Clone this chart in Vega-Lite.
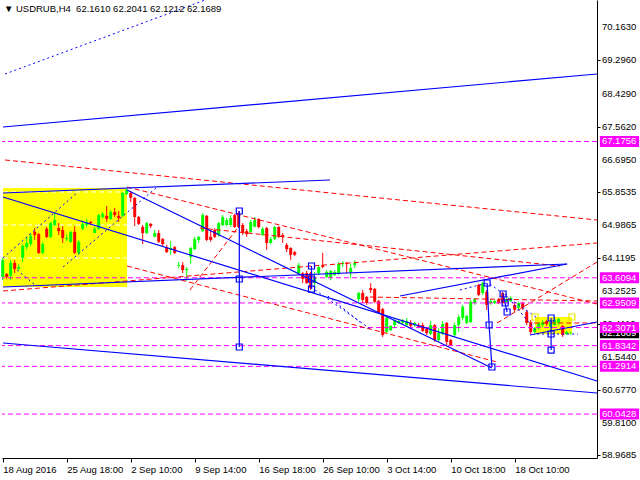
{
  "$schema": "https://vega.github.io/schema/vega-lite/v6.json",
  "width": 595,
  "height": 458,
  "autosize": {"type": "none"},
  "padding": {"left": 2, "top": 0, "right": 43, "bottom": 22},
  "background": "white",
  "config": {
    "view": {"stroke": null},
    "font": "Liberation Sans",
    "axis": {"grid": false, "title": null},
    "scale": {"continuousPadding": 0}
  },
  "datasets": {
    "candles": [
      {"b":0,"o":63.63,"h":64.13,"l":63.55,"c":64.07},
      {"b":1,"o":63.71,"h":63.73,"l":63.58,"c":63.63},
      {"b":2,"o":63.66,"h":64.07,"l":63.55,"c":64.00},
      {"b":3,"o":64.00,"h":64.07,"l":63.73,"c":63.84},
      {"b":4,"o":63.84,"h":63.97,"l":63.81,"c":63.89},
      {"b":5,"o":64.13,"h":64.49,"l":64.02,"c":64.44},
      {"b":6,"o":64.41,"h":64.68,"l":64.34,"c":64.52},
      {"b":7,"o":64.49,"h":64.78,"l":64.44,"c":64.70},
      {"b":8,"o":64.81,"h":64.91,"l":64.60,"c":64.73},
      {"b":9,"o":64.75,"h":64.78,"l":64.23,"c":64.26},
      {"b":10,"o":64.26,"h":64.55,"l":64.23,"c":64.49},
      {"b":11,"o":64.89,"h":64.94,"l":64.65,"c":64.68},
      {"b":12,"o":64.68,"h":65.07,"l":64.65,"c":65.04},
      {"b":13,"o":64.99,"h":65.33,"l":64.96,"c":65.12},
      {"b":14,"o":64.91,"h":65.04,"l":64.73,"c":64.83},
      {"b":15,"o":64.86,"h":64.96,"l":64.52,"c":64.65},
      {"b":16,"o":64.62,"h":64.75,"l":64.57,"c":64.65},
      {"b":17,"o":64.55,"h":64.83,"l":64.52,"c":64.81},
      {"b":18,"o":64.81,"h":64.96,"l":64.23,"c":64.26},
      {"b":19,"o":64.26,"h":64.60,"l":64.21,"c":64.55},
      {"b":20,"o":64.89,"h":65.12,"l":64.86,"c":65.02},
      {"b":21,"o":64.99,"h":65.15,"l":64.94,"c":65.07},
      {"b":22,"o":65.07,"h":65.10,"l":64.99,"c":65.04},
      {"b":23,"o":64.78,"h":64.94,"l":64.78,"c":64.89},
      {"b":24,"o":64.89,"h":65.28,"l":64.86,"c":65.25},
      {"b":25,"o":65.20,"h":65.33,"l":65.15,"c":65.28},
      {"b":26,"o":65.23,"h":65.49,"l":65.07,"c":65.15},
      {"b":27,"o":65.15,"h":65.38,"l":65.12,"c":65.33},
      {"b":28,"o":65.33,"h":65.44,"l":65.20,"c":65.25},
      {"b":29,"o":65.23,"h":65.36,"l":65.07,"c":65.17},
      {"b":30,"o":65.23,"h":65.85,"l":65.20,"c":65.83},
      {"b":31,"o":65.80,"h":65.96,"l":65.77,"c":65.91},
      {"b":32,"o":65.83,"h":65.88,"l":65.59,"c":65.70},
      {"b":33,"o":65.70,"h":65.72,"l":64.96,"c":65.20},
      {"b":34,"o":65.20,"h":65.23,"l":64.99,"c":65.02},
      {"b":35,"o":64.94,"h":64.99,"l":64.49,"c":64.78},
      {"b":36,"o":64.78,"h":65.07,"l":64.75,"c":65.04},
      {"b":37,"o":65.02,"h":65.04,"l":64.91,"c":64.96},
      {"b":38,"o":64.68,"h":64.86,"l":64.68,"c":64.78},
      {"b":39,"o":64.78,"h":64.86,"l":64.52,"c":64.55},
      {"b":40,"o":64.62,"h":64.65,"l":64.44,"c":64.49},
      {"b":41,"o":64.41,"h":64.47,"l":64.26,"c":64.28},
      {"b":42,"o":64.34,"h":64.57,"l":64.21,"c":64.39},
      {"b":43,"o":64.41,"h":64.44,"l":64.23,"c":64.26},
      {"b":44,"o":63.92,"h":64.02,"l":63.86,"c":63.94},
      {"b":45,"o":63.94,"h":64.02,"l":63.73,"c":63.81},
      {"b":46,"o":63.81,"h":63.89,"l":63.53,"c":63.84},
      {"b":47,"o":64.15,"h":64.41,"l":63.97,"c":64.39},
      {"b":48,"o":64.36,"h":64.68,"l":64.34,"c":64.62},
      {"b":49,"o":64.60,"h":64.70,"l":64.52,"c":64.68},
      {"b":50,"o":64.83,"h":65.30,"l":64.81,"c":65.25},
      {"b":51,"o":65.23,"h":65.25,"l":64.57,"c":64.60},
      {"b":52,"o":64.68,"h":64.86,"l":64.55,"c":64.60},
      {"b":53,"o":64.86,"h":64.91,"l":64.65,"c":64.68},
      {"b":54,"o":64.73,"h":65.07,"l":64.68,"c":65.04},
      {"b":55,"o":64.99,"h":65.25,"l":64.96,"c":65.20},
      {"b":56,"o":64.99,"h":65.17,"l":64.96,"c":65.12},
      {"b":57,"o":64.99,"h":65.25,"l":64.94,"c":65.17},
      {"b":58,"o":65.25,"h":65.28,"l":64.91,"c":64.94},
      {"b":59,"o":65.30,"h":65.36,"l":64.91,"c":64.94},
      {"b":60,"o":64.99,"h":65.04,"l":64.73,"c":64.78},
      {"b":61,"o":64.83,"h":64.89,"l":64.68,"c":64.75},
      {"b":62,"o":64.81,"h":65.12,"l":64.78,"c":65.07},
      {"b":63,"o":64.94,"h":65.20,"l":64.94,"c":65.12},
      {"b":64,"o":65.15,"h":65.17,"l":64.91,"c":64.94},
      {"b":65,"o":64.73,"h":64.94,"l":64.70,"c":64.89},
      {"b":66,"o":64.91,"h":64.94,"l":64.34,"c":64.52},
      {"b":67,"o":64.52,"h":64.68,"l":64.49,"c":64.62},
      {"b":68,"o":64.62,"h":64.96,"l":64.60,"c":64.94},
      {"b":69,"o":64.94,"h":64.96,"l":64.65,"c":64.68},
      {"b":70,"o":64.73,"h":64.78,"l":64.52,"c":64.68},
      {"b":71,"o":64.47,"h":64.52,"l":64.28,"c":64.36},
      {"b":72,"o":64.39,"h":64.41,"l":64.07,"c":64.21},
      {"b":73,"o":64.28,"h":64.31,"l":64.18,"c":64.21},
      {"b":74,"o":63.73,"h":64.00,"l":63.68,"c":63.94},
      {"b":75,"o":63.73,"h":63.76,"l":63.47,"c":63.58},
      {"b":76,"o":63.73,"h":63.79,"l":63.45,"c":63.47},
      {"b":77,"o":63.73,"h":63.76,"l":63.29,"c":63.34},
      {"b":78,"o":63.47,"h":63.76,"l":63.34,"c":63.63},
      {"b":79,"o":63.73,"h":63.94,"l":63.68,"c":63.89},
      {"b":80,"o":63.94,"h":64.26,"l":63.86,"c":63.89},
      {"b":81,"o":63.63,"h":63.81,"l":63.60,"c":63.76},
      {"b":82,"o":63.60,"h":63.81,"l":63.55,"c":63.79},
      {"b":83,"o":63.68,"h":63.81,"l":63.66,"c":63.76},
      {"b":84,"o":63.73,"h":64.02,"l":63.68,"c":63.97},
      {"b":85,"o":63.97,"h":64.05,"l":63.89,"c":64.00},
      {"b":86,"o":64.00,"h":64.02,"l":63.73,"c":63.97},
      {"b":87,"o":63.76,"h":63.97,"l":63.60,"c":63.86},
      {"b":88,"o":63.94,"h":64.07,"l":63.86,"c":64.00},
      {"b":89,"o":63.05,"h":63.24,"l":62.98,"c":63.21},
      {"b":90,"o":63.21,"h":63.29,"l":62.95,"c":63.03},
      {"b":91,"o":63.11,"h":63.13,"l":62.90,"c":62.95},
      {"b":92,"o":63.34,"h":63.47,"l":63.21,"c":63.29},
      {"b":93,"o":63.32,"h":63.34,"l":62.95,"c":62.98},
      {"b":94,"o":63.00,"h":63.03,"l":62.66,"c":62.69},
      {"b":95,"o":62.79,"h":62.82,"l":62.06,"c":62.11},
      {"b":96,"o":62.19,"h":62.58,"l":62.16,"c":62.56},
      {"b":97,"o":62.24,"h":62.37,"l":62.22,"c":62.35},
      {"b":98,"o":62.37,"h":62.56,"l":62.29,"c":62.50},
      {"b":99,"o":62.43,"h":62.50,"l":62.40,"c":62.48},
      {"b":100,"o":62.43,"h":62.53,"l":62.40,"c":62.50},
      {"b":101,"o":62.37,"h":62.56,"l":62.32,"c":62.48},
      {"b":102,"o":62.43,"h":62.50,"l":62.29,"c":62.35},
      {"b":103,"o":62.37,"h":62.45,"l":62.32,"c":62.43},
      {"b":104,"o":62.37,"h":62.43,"l":62.29,"c":62.32},
      {"b":105,"o":62.37,"h":62.43,"l":62.19,"c":62.22},
      {"b":106,"o":62.27,"h":62.32,"l":62.11,"c":62.16},
      {"b":107,"o":62.14,"h":62.48,"l":62.11,"c":62.37},
      {"b":108,"o":62.37,"h":62.40,"l":61.93,"c":61.98},
      {"b":109,"o":61.98,"h":62.29,"l":61.93,"c":62.16},
      {"b":110,"o":62.14,"h":62.48,"l":62.11,"c":62.40},
      {"b":111,"o":62.43,"h":62.45,"l":61.85,"c":61.93},
      {"b":112,"o":61.98,"h":62.01,"l":61.83,"c":61.85},
      {"b":113,"o":62.11,"h":62.43,"l":62.06,"c":62.37},
      {"b":114,"o":62.37,"h":62.64,"l":62.19,"c":62.58},
      {"b":115,"o":62.56,"h":62.90,"l":62.50,"c":62.85},
      {"b":116,"o":62.43,"h":62.64,"l":62.40,"c":62.61},
      {"b":117,"o":62.45,"h":63.03,"l":62.43,"c":62.98},
      {"b":118,"o":62.95,"h":63.08,"l":62.90,"c":63.05},
      {"b":119,"o":63.42,"h":63.45,"l":63.13,"c":63.16},
      {"b":120,"o":63.21,"h":63.50,"l":63.16,"c":63.47},
      {"b":121,"o":63.24,"h":63.29,"l":62.77,"c":62.90},
      {"b":122,"o":62.95,"h":63.05,"l":62.90,"c":63.00},
      {"b":123,"o":62.95,"h":63.03,"l":62.92,"c":63.00},
      {"b":124,"o":63.05,"h":63.08,"l":62.92,"c":62.95},
      {"b":125,"o":63.21,"h":63.24,"l":62.90,"c":62.95},
      {"b":126,"o":62.98,"h":63.11,"l":62.95,"c":63.05},
      {"b":127,"o":63.00,"h":63.13,"l":62.98,"c":63.08},
      {"b":128,"o":62.90,"h":62.95,"l":62.71,"c":62.77},
      {"b":129,"o":62.82,"h":62.98,"l":62.77,"c":62.95},
      {"b":130,"o":62.95,"h":62.98,"l":62.77,"c":62.82},
      {"b":131,"o":62.71,"h":62.77,"l":62.37,"c":62.43},
      {"b":132,"o":62.45,"h":62.50,"l":62.14,"c":62.19},
      {"b":133,"o":62.19,"h":62.32,"l":62.16,"c":62.29},
      {"b":134,"o":62.29,"h":62.45,"l":62.24,"c":62.43},
      {"b":135,"o":62.37,"h":62.50,"l":62.32,"c":62.45},
      {"b":136,"o":62.48,"h":62.50,"l":62.35,"c":62.40},
      {"b":137,"o":62.32,"h":62.50,"l":62.29,"c":62.45},
      {"b":138,"o":62.37,"h":62.56,"l":62.35,"c":62.50},
      {"b":139,"o":62.43,"h":62.56,"l":62.37,"c":62.53},
      {"b":140,"o":62.35,"h":62.37,"l":62.06,"c":62.11},
      {"b":141,"o":62.14,"h":62.22,"l":62.11,"c":62.19},
      {"b":142,"o":62.1610,"h":62.2041,"l":62.1212,"c":62.1689}
    ],
    "priceTicks": [
      {"v":70.163},{"v":69.296},{"v":68.429},{"v":67.562},{"v":66.695},
      {"v":65.8535},{"v":64.9865},{"v":64.1195},{"v":63.2525},{"v":62.411},
      {"v":61.544},{"v":60.677},{"v":59.81},{"v":58.9685}
    ],
    "zones": [
      {"b1":0.08,"b2":31.08,"p1":63.368,"p2":65.958},
      {"b1":133.1,"b2":142.3,"p1":62.138,"p2":62.583}
    ],
    "zoneLevels": [
      {"b1":0.08,"b2":31.08,"p":65.854},
      {"b1":0.08,"b2":31.08,"p":64.99},
      {"b1":0.08,"b2":31.08,"p":64.127}
    ],
    "levels": [
      {"p":67.1756},{"p":63.6094},{"p":62.9509},{"p":62.3071},
      {"p":61.8342},{"p":61.2914},{"p":60.0428}
    ],
    "lastPrice": [{"p":62.1689}],
    "trendlines": [
      {"b1":0.08,"p1":67.554,"b2":148.58,"p2":68.941},
      {"b1":0.08,"p1":65.827,"b2":81.83,"p2":66.168},
      {"b1":0.08,"p1":63.368,"b2":141.1,"p2":63.970},
      {"b1":0.08,"p1":65.723,"b2":148.58,"p2":60.909},
      {"b1":31.08,"p1":65.906,"b2":122.3,"p2":61.249},
      {"b1":0.08,"p1":61.903,"b2":148.58,"p2":60.595},
      {"b1":99.3,"p1":63.132,"b2":141.1,"p2":63.970},
      {"b1":131.8,"p1":62.112,"b2":148.58,"p2":62.452},
      {"b1":59.15,"p1":65.357,"b2":59.15,"p2":61.798},
      {"b1":77.2,"p1":63.917,"b2":77.2,"p2":63.315},
      {"b1":121.1,"p1":63.473,"b2":121.6,"p2":62.374},
      {"b1":121.6,"p1":62.374,"b2":122.3,"p2":61.275},
      {"b1":125.1,"p1":63.185,"b2":125.6,"p2":62.949},
      {"b1":125.6,"p1":62.949,"b2":126.1,"p2":62.714},
      {"b1":137.1,"p1":62.557,"b2":137.1,"p2":61.719}
    ],
    "guides": [
      {"b1":0.58,"p1":68.941,"b2":50.6,"p2":70.877},
      {"b1":0.08,"p1":64.127,"b2":18.8,"p2":65.854},
      {"b1":15.1,"p1":63.891,"b2":38.6,"p2":65.984},
      {"b1":3.6,"p1":63.813,"b2":8.1,"p2":63.420},
      {"b1":78.1,"p1":63.289,"b2":92.3,"p2":62.243},
      {"b1":81.3,"p1":63.132,"b2":89.3,"p2":62.452},
      {"b1":114.3,"p1":63.289,"b2":121.1,"p2":63.473},
      {"b1":121.8,"p1":63.446,"b2":133.6,"p2":62.557},
      {"b1":125.6,"p1":63.185,"b2":133.6,"p2":62.190},
      {"b1":133.6,"p1":62.138,"b2":143.8,"p2":62.138}
    ],
    "fans": [
      {"b1":0.58,"p1":66.691,"b2":148.58,"p2":65.121},
      {"b1":31.08,"p1":65.984,"b2":148.58,"p2":62.923},
      {"b1":0.08,"p1":63.263,"b2":148.58,"p2":64.519},
      {"b1":31.08,"p1":63.917,"b2":123.6,"p2":61.406},
      {"b1":123.6,"p1":62.426,"b2":148.58,"p2":64.022},
      {"b1":91.8,"p1":63.106,"b2":148.58,"p2":63.002},
      {"b1":132.9,"p1":62.426,"b2":148.58,"p2":62.426},
      {"b1":46.8,"p1":63.289,"b2":59.3,"p2":64.990},
      {"b1":49.3,"p1":64.912,"b2":139.3,"p2":63.917}
    ],
    "anchors": [
      {"b":59.15,"p":65.357},{"b":59.15,"p":63.577},{"b":59.15,"p":61.798},
      {"b":77.2,"p":63.917},{"b":77.2,"p":63.577},{"b":77.2,"p":63.315},
      {"b":121.1,"p":63.473},{"b":121.6,"p":62.374},{"b":122.3,"p":61.275},
      {"b":125.1,"p":63.185},{"b":125.6,"p":62.949},{"b":126.1,"p":62.714},
      {"b":137.1,"p":62.557},{"b":137.1,"p":62.138},{"b":137.1,"p":61.719}
    ],
    "zoneCorners": [
      {"b":133.1,"p":62.583},{"b":142.3,"p":62.583}
    ],
    "header": [{"t":"▼ USDRUB,H4\u00a0\u00a062.1610 62.2041 62.1212 62.1689"}]
  },
  "layer": [
    {
      "data": {"name": "zones"},
      "mark": {"type": "rect", "color": "#ffff00"},
      "encoding": {
        "x": {"field": "b1", "type": "quantitative", "title": null, "scale": {"domain": [-0.175, 148.575], "nice": false, "zero": false, "padding": 0}},
        "x2": {"field": "b2"},
        "y": {"field": "p1", "type": "quantitative", "title": null, "scale": {"domain": [58.894, 70.877], "nice": false, "zero": false, "padding": 0}},
        "y2": {"field": "p2"}
      }
    },
    {
      "data": {"name": "zoneLevels"},
      "mark": {"type": "rule", "color": "white", "strokeWidth": 1, "strokeDash": [5, 3]},
      "encoding": {
        "x": {"field": "b1", "type": "quantitative", "title": null, "scale": {"domain": [-0.175, 148.575], "nice": false, "zero": false, "padding": 0}},
        "x2": {"field": "b2"},
        "y": {"field": "p", "type": "quantitative", "title": null, "scale": {"domain": [58.894, 70.877], "nice": false, "zero": false, "padding": 0}}
      }
    },
    {
      "data": {"name": "candles"},
      "mark": {"type": "rule", "strokeWidth": 1},
      "encoding": {
        "x": {
          "field": "b", "type": "quantitative", "title": null,
          "scale": {"domain": [-0.175, 148.575], "nice": false, "zero": false, "padding": 0},
          "axis": {
            "values": [0, 16, 32, 48, 64, 80, 96, 112, 128],
            "labelExpr": "['18 Aug 2016', '25 Aug 18:00', '2 Sep 10:00', '9 Sep 14:00', '16 Sep 18:00', '26 Sep 10:00', '3 Oct 14:00', '10 Oct 18:00', '18 Oct 10:00'][round(datum.value / 16)]",
            "labelAlign": "left", "labelFont": "Liberation Sans", "labelFontSize": 9.5,
            "labelColor": "black", "labelPadding": 2, "labelOverlap": false, "labelFlush": false,
            "tickSize": 4, "tickColor": "black", "domainColor": "black", "grid": false
          }
        },
        "y": {
          "field": "l", "type": "quantitative", "title": null,
          "scale": {"domain": [58.894, 70.877], "nice": false, "zero": false, "padding": 0},
          "axis": {
            "orient": "right",
            "values": [70.163, 69.296, 68.429, 67.562, 66.695, 65.8535, 64.9865, 64.1195, 63.2525, 62.411, 61.544, 60.677, 59.81, 58.9685],
            "labels": false,
            "tickSize": 3, "tickColor": "black", "domainColor": "black", "grid": false
          }
        },
        "y2": {"field": "h"},
        "color": {"condition": {"test": "datum.c >= datum.o", "value": "#00ff00"}, "value": "#ff0000"}
      }
    },
    {
      "data": {"name": "candles"},
      "mark": {"type": "bar", "width": 3, "orient": "vertical"},
      "encoding": {
        "x": {"field": "b", "type": "quantitative", "title": null, "scale": {"domain": [-0.175, 148.575], "nice": false, "zero": false, "padding": 0}},
        "y": {"field": "o", "type": "quantitative", "title": null, "scale": {"domain": [58.894, 70.877], "nice": false, "zero": false, "padding": 0}},
        "y2": {"field": "c"},
        "color": {"condition": {"test": "datum.c >= datum.o", "value": "#00ff00"}, "value": "#ff0000"}
      }
    },
    {
      "data": {"name": "levels"},
      "mark": {"type": "rule", "color": "#ff00ff", "strokeWidth": 1, "strokeDash": [5, 3]},
      "encoding": {
        "y": {"field": "p", "type": "quantitative", "title": null, "scale": {"domain": [58.894, 70.877], "nice": false, "zero": false, "padding": 0}}
      }
    },
    {
      "data": {"name": "fans"},
      "mark": {"type": "rule", "color": "#ff0000", "strokeWidth": 1, "strokeDash": [5, 3]},
      "encoding": {
        "x": {"field": "b1", "type": "quantitative", "title": null, "scale": {"domain": [-0.175, 148.575], "nice": false, "zero": false, "padding": 0}},
        "x2": {"field": "b2"},
        "y": {"field": "p1", "type": "quantitative", "title": null, "scale": {"domain": [58.894, 70.877], "nice": false, "zero": false, "padding": 0}},
        "y2": {"field": "p2"}
      }
    },
    {
      "data": {"name": "guides"},
      "mark": {"type": "rule", "color": "#0000ff", "strokeWidth": 1, "strokeDash": [2, 3]},
      "encoding": {
        "x": {"field": "b1", "type": "quantitative", "title": null, "scale": {"domain": [-0.175, 148.575], "nice": false, "zero": false, "padding": 0}},
        "x2": {"field": "b2"},
        "y": {"field": "p1", "type": "quantitative", "title": null, "scale": {"domain": [58.894, 70.877], "nice": false, "zero": false, "padding": 0}},
        "y2": {"field": "p2"}
      }
    },
    {
      "data": {"name": "trendlines"},
      "mark": {"type": "rule", "color": "#0000ff", "strokeWidth": 1.2},
      "encoding": {
        "x": {"field": "b1", "type": "quantitative", "title": null, "scale": {"domain": [-0.175, 148.575], "nice": false, "zero": false, "padding": 0}},
        "x2": {"field": "b2"},
        "y": {"field": "p1", "type": "quantitative", "title": null, "scale": {"domain": [58.894, 70.877], "nice": false, "zero": false, "padding": 0}},
        "y2": {"field": "p2"}
      }
    },
    {
      "data": {"name": "anchors"},
      "mark": {"type": "point", "shape": "square", "size": 36, "filled": false, "color": "#0000ff", "strokeWidth": 1.2, "opacity": 1},
      "encoding": {
        "x": {"field": "b", "type": "quantitative", "title": null, "scale": {"domain": [-0.175, 148.575], "nice": false, "zero": false, "padding": 0}},
        "y": {"field": "p", "type": "quantitative", "title": null, "scale": {"domain": [58.894, 70.877], "nice": false, "zero": false, "padding": 0}}
      }
    },
    {
      "data": {"name": "zoneCorners"},
      "mark": {"type": "point", "shape": "square", "size": 36, "filled": false, "color": "#e8e800", "strokeWidth": 1.2, "opacity": 1},
      "encoding": {
        "x": {"field": "b", "type": "quantitative", "title": null, "scale": {"domain": [-0.175, 148.575], "nice": false, "zero": false, "padding": 0}},
        "y": {"field": "p", "type": "quantitative", "title": null, "scale": {"domain": [58.894, 70.877], "nice": false, "zero": false, "padding": 0}}
      }
    },
    {
      "data": {"name": "priceTicks"},
      "mark": {"type": "text", "align": "left", "baseline": "middle", "color": "black", "font": "Liberation Sans", "fontSize": 9.5},
      "encoding": {
        "x": {"datum": 149.8, "type": "quantitative", "scale": {"domain": [-0.175, 148.575], "nice": false, "zero": false, "padding": 0}},
        "y": {"field": "v", "type": "quantitative", "title": null, "scale": {"domain": [58.894, 70.877], "nice": false, "zero": false, "padding": 0}},
        "text": {"field": "v", "type": "quantitative", "format": ".4f"}
      }
    },
    {
      "data": {"name": "lastPrice"},
      "mark": {"type": "bar", "orient": "horizontal", "height": 11, "color": "black"},
      "encoding": {
        "x": {"datum": 149.3, "type": "quantitative", "scale": {"domain": [-0.175, 148.575], "nice": false, "zero": false, "padding": 0}},
        "x2": {"datum": 159.1},
        "y": {"field": "p", "type": "quantitative", "title": null, "scale": {"domain": [58.894, 70.877], "nice": false, "zero": false, "padding": 0}}
      }
    },
    {
      "data": {"name": "lastPrice"},
      "mark": {"type": "text", "align": "left", "baseline": "middle", "color": "white", "font": "Liberation Sans", "fontSize": 9.5},
      "encoding": {
        "x": {"datum": 149.8, "type": "quantitative", "scale": {"domain": [-0.175, 148.575], "nice": false, "zero": false, "padding": 0}},
        "y": {"field": "p", "type": "quantitative", "title": null, "scale": {"domain": [58.894, 70.877], "nice": false, "zero": false, "padding": 0}},
        "text": {"field": "p", "type": "quantitative", "format": ".4f"}
      }
    },
    {
      "data": {"name": "levels"},
      "mark": {"type": "bar", "orient": "horizontal", "height": 11, "color": "#ff00ff"},
      "encoding": {
        "x": {"datum": 149.3, "type": "quantitative", "scale": {"domain": [-0.175, 148.575], "nice": false, "zero": false, "padding": 0}},
        "x2": {"datum": 159.1},
        "y": {"field": "p", "type": "quantitative", "title": null, "scale": {"domain": [58.894, 70.877], "nice": false, "zero": false, "padding": 0}}
      }
    },
    {
      "data": {"name": "levels"},
      "mark": {"type": "text", "align": "left", "baseline": "middle", "color": "white", "font": "Liberation Sans", "fontSize": 9.5},
      "encoding": {
        "x": {"datum": 149.8, "type": "quantitative", "scale": {"domain": [-0.175, 148.575], "nice": false, "zero": false, "padding": 0}},
        "y": {"field": "p", "type": "quantitative", "title": null, "scale": {"domain": [58.894, 70.877], "nice": false, "zero": false, "padding": 0}},
        "text": {"field": "p", "type": "quantitative", "format": ".4f"}
      }
    },
    {
      "data": {"name": "header"},
      "mark": {"type": "text", "align": "left", "baseline": "middle", "color": "black", "font": "Liberation Sans", "fontSize": 9.5},
      "encoding": {
        "x": {"datum": 0.3, "type": "quantitative", "scale": {"domain": [-0.175, 148.575], "nice": false, "zero": false, "padding": 0}},
        "y": {"datum": 70.64, "type": "quantitative", "scale": {"domain": [58.894, 70.877], "nice": false, "zero": false, "padding": 0}},
        "text": {"field": "t"}
      }
    },
    {
      "mark": {"type": "rule", "color": "black", "strokeWidth": 1},
      "encoding": {
        "x": {"datum": -0.05, "type": "quantitative", "scale": {"domain": [-0.175, 148.575], "nice": false, "zero": false, "padding": 0}}
      }
    }
  ]
}
